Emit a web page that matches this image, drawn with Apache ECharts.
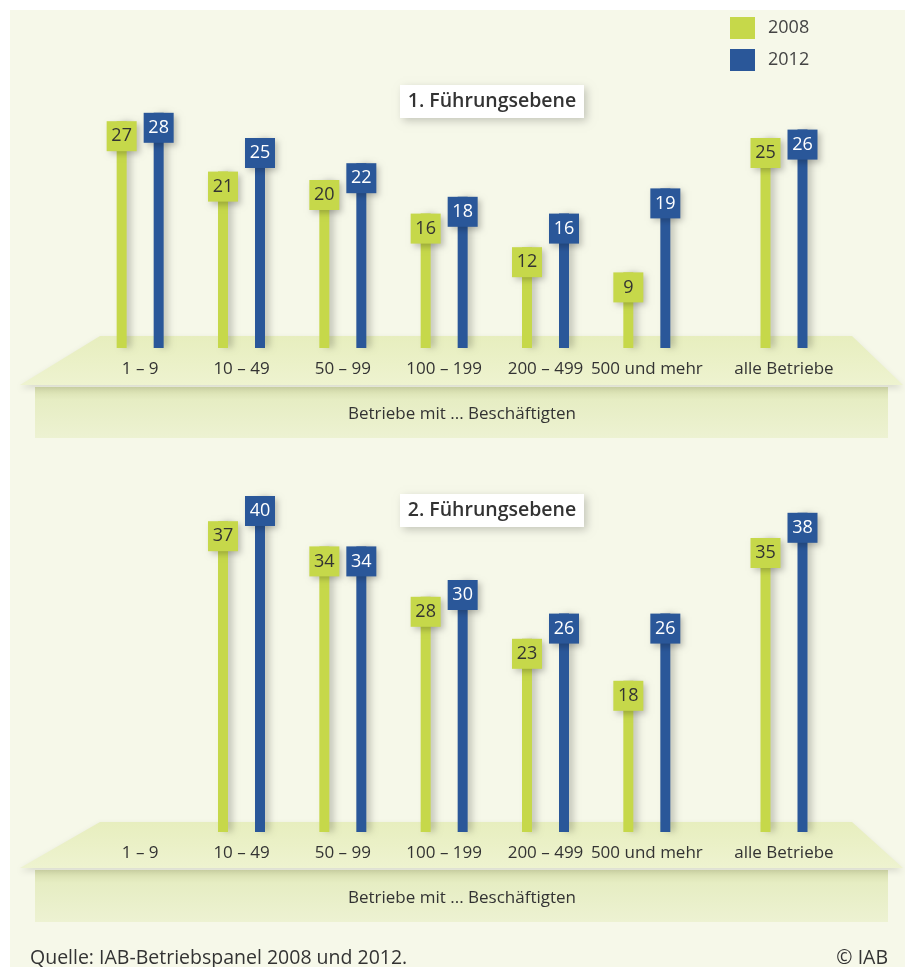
<!DOCTYPE html>
<html><head><meta charset="utf-8">
<script src="https://cdn.jsdelivr.net/npm/echarts@6/dist/echarts.min.js"></script>
<style>html,body{margin:0;padding:0;background:#fff}#c{width:905px;height:967px}</style>
</head><body><div id="c"></div>
<script>
const categories = ['1 – 9','10 – 49','50 – 99','100 – 199','200 – 499','500 und mehr'];
const totalCategory = ['alle Betriebe'];
const years = ['2008','2012'];
const panel1Titles = '1. Führungsebene';
const panel2Titles = '2. Führungsebene';
const p1_2008 = [27,21,20,16,12,9];
const p1_2012 = [28,25,22,18,16,19];
const p1_total2008 = [25];
const p1_total2012 = [26];
const p2_2008 = [null,37,34,28,23,18];
const p2_2012 = [null,40,34,30,26,26];
const p2_total2008 = [35];
const p2_total2012 = [38];
const axisTitle = 'Betriebe mit ... Beschäftigten';
const source = 'Quelle: IAB-Betriebspanel 2008 und 2012.';
const copyright = '© IAB';

const GREEN = '#c6d84a', BLUE = '#2a5799';
const FONT = '"Open Sans", sans-serif';
const chart = echarts.init(document.getElementById('c'));

const P = [{zero:348, floorTop:336, floorBot:385, rectTop:387, rectBot:438, titleY:85},
           {zero:832, floorTop:822, floorBot:868, rectTop:870, rectBot:922, titleY:494}];
const H = 336, YMAX = 40;
const grids = [], xAxes = [], yAxes = [];
P.forEach((p) => {
  grids.push({left:89.5, width:608, top:p.zero - H, height:H});
  grids.push({left:733.5, width:101, top:p.zero - H, height:H});
});
grids.forEach((g, i) => {
  xAxes.push({type:'category', gridIndex:i, data: i % 2 === 0 ? categories : totalCategory,
    axisLine:{show:false}, axisTick:{show:false},
    axisLabel:{interval:0, margin:13, fontSize:17, color:'#333', fontFamily:FONT}});
  yAxes.push({type:'value', gridIndex:i, min:0, max:YMAX, show:false, splitLine:{show:false}});
});

function mkSeries(name, data, idx, color, txt) {
  return {type:'bar', name, data, xAxisIndex:idx, yAxisIndex:idx,
    barWidth:10, barGap:'270%', z:3,
    itemStyle:{color, shadowColor:'rgba(0,0,0,0.18)', shadowBlur:6, shadowOffsetX:5},
    label:{show:true, position:'insideTop', distance:0, color:txt, fontSize:18, fontFamily:FONT,
      backgroundColor:color, width:30, height:30, lineHeight:30, align:'center', padding:0,
      shadowColor:'rgba(0,0,0,0.22)', shadowBlur:6, shadowOffsetX:3, shadowOffsetY:3}};
}
const series = [
  mkSeries('2008', p1_2008, 0, GREEN, '#333'), mkSeries('2012', p1_2012, 0, BLUE, '#fff'),
  mkSeries('2008', p1_total2008, 1, GREEN, '#333'), mkSeries('2012', p1_total2012, 1, BLUE, '#fff'),
  mkSeries('2008', p2_2008, 2, GREEN, '#333'), mkSeries('2012', p2_2012, 2, BLUE, '#fff'),
  mkSeries('2008', p2_total2008, 3, GREEN, '#333'), mkSeries('2012', p2_total2012, 3, BLUE, '#fff')
];

const graphics = [
  {type:'rect', z:-10, shape:{x:10, y:10, width:895, height:957}, style:{fill:'#f6f8e9'}}
];
P.forEach((p, i) => {
  graphics.push({type:'rect', z:-5, shape:{x:35, y:p.rectTop, width:853, height:p.rectBot - p.rectTop},
    style:{fill:{type:'linear', x:0, y:0, x2:0, y2:1, colorStops:[{offset:0, color:'#d6ddac'},{offset:0.25, color:'#e6edc3'},{offset:1, color:'#edf2d2'}]}}});
  graphics.push({type:'polygon', z:-4, shape:{points:[[100,p.floorTop],[852,p.floorTop],[903,p.floorBot],[20,p.floorBot]]},
    style:{fill:{type:'linear', x:0, y:0, x2:0, y2:1, colorStops:[{offset:0, color:'#e7eebe'},{offset:1, color:'#eef3d0'}]},
      shadowColor:'rgba(0,0,0,0.12)', shadowBlur:6, shadowOffsetY:3}});
  graphics.push({type:'text', z:5, style:{text:axisTitle, x:462, y:(p.rectTop + p.rectBot)/2 + 2, align:'center', verticalAlign:'middle',
    font:'17px ' + FONT, fill:'#333'}});
  graphics.push({type:'rect', z:5, shape:{x:400, y:p.titleY, width:184, height:33},
    style:{fill:'#fff', shadowColor:'rgba(0,0,0,0.2)', shadowBlur:8, shadowOffsetX:3, shadowOffsetY:3}});
  graphics.push({type:'text', z:6, style:{text: i === 0 ? panel1Titles : panel2Titles, x:492, y:p.titleY + 16.5, align:'center', verticalAlign:'middle',
    font:'600 19.5px ' + FONT, fill:'#333'}});
});
graphics.push({type:'text', z:5, style:{text:source, x:30, y:958, align:'left', verticalAlign:'middle', font:'19.5px ' + FONT, fill:'#333'}});
graphics.push({type:'text', z:5, style:{text:copyright, x:888, y:958, align:'right', verticalAlign:'middle', font:'19.5px ' + FONT, fill:'#333'}});

chart.setOption({
  backgroundColor:'#fff',
  animation:false,
  color:[GREEN, BLUE],
  legend:{data:years, orient:'vertical', left:725, top:12, itemWidth:25, itemHeight:22, itemGap:10, icon:'rect',
    textStyle:{fontSize:18, color:'#444', fontFamily:FONT, padding:[0,0,0,8]}, selectedMode:false},
  grid:grids, xAxis:xAxes, yAxis:yAxes, series, graphic:graphics
});
</script></body></html>
